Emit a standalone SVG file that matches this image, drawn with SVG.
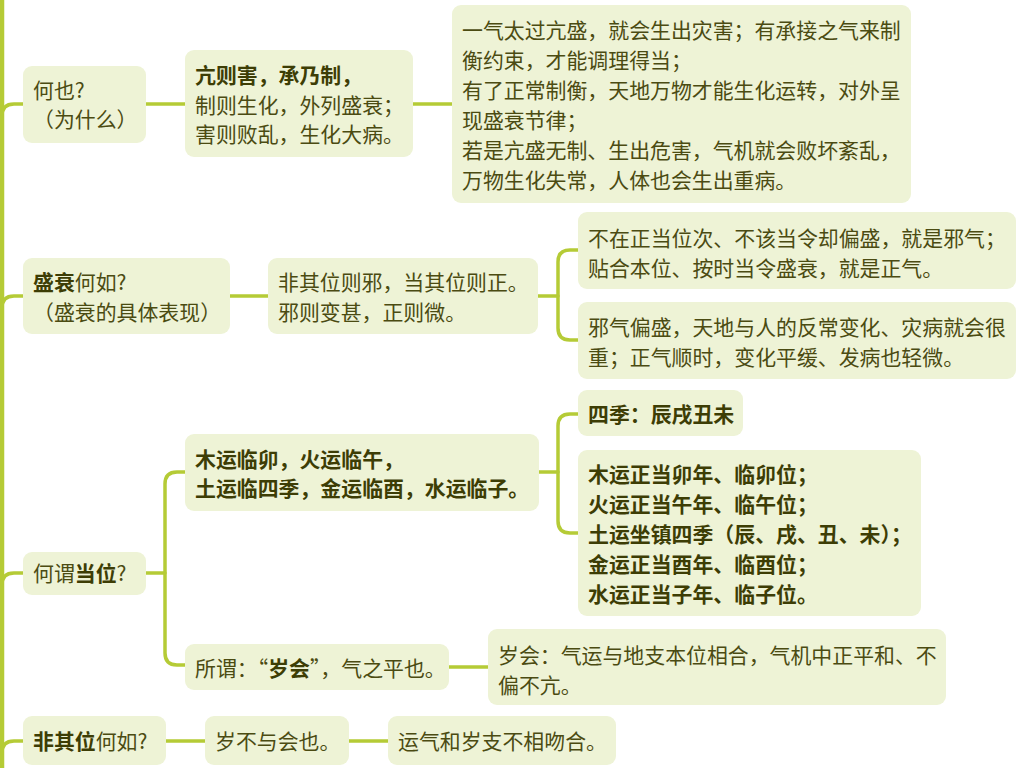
<svg xmlns="http://www.w3.org/2000/svg" width="1026" height="768" viewBox="0 0 1026 768">
<style>
.n{fill:#eef3d6;}
.t{font-family:"Noto Sans CJK SC","Noto Sans",sans-serif;font-size:20.9px;fill:#4b4b12;}
.b{font-weight:bold;fill:#3d3d05;}
.c{fill:none;stroke:#b5cb36;stroke-width:3.5;stroke-linecap:round;}
</style>
<rect width="1026" height="768" fill="#ffffff"/>
<g id="connectors">
<line x1="2" y1="0" x2="2" y2="768" stroke="#b5cb36" stroke-width="4.5"/>
<path class="c" d="M2 116 Q2 104 14 104 H23"/>
<path class="c" d="M2 308 Q2 296 14 296 H23"/>
<path class="c" d="M2 585 Q2 573 14 573 H23"/>
<path class="c" d="M2 753 Q2 741 14 741 H23"/>
<path class="c" d="M146 104 H185"/>
<path class="c" d="M413 104 H452"/>
<path class="c" d="M230 296 H268"/>
<path class="c" d="M538 296 H558"/>
<path class="c" d="M578 250 H570 Q558 250 558 262 V328 Q558 340 570 340 H578"/>
<path class="c" d="M146 573 H165"/>
<path class="c" d="M185 472 H177 Q165 472 165 484 V653 Q165 665 177 665 H185"/>
<path class="c" d="M539 472 H558"/>
<path class="c" d="M578 414 H570 Q558 414 558 426 V521 Q558 533 570 533 H578"/>
<path class="c" d="M449 667 H488"/>
<path class="c" d="M166 741 H205"/>
<path class="c" d="M349 741 H388"/>
</g>
<g id="n1"><rect class="n" x="23" y="66" width="123" height="77" rx="9"/>
<text class="t" x="33" y="98">何也?</text><text class="t" x="33" y="127">（为什么）</text></g>
<g id="n2"><rect class="n" x="185" y="50" width="228" height="107" rx="9"/>
<text class="t" x="195" y="83"><tspan class="b">亢则害，承乃制，</tspan></text>
<text class="t" x="195" y="113">制则生化，外列盛衰；</text>
<text class="t" x="195" y="142">害则败乱，生化大病。</text></g>
<g id="n3"><rect class="n" x="452" y="5" width="459" height="198" rx="9"/>
<text class="t" x="462" y="38">一气太过亢盛，就会生出灾害；有承接之气来制</text>
<text class="t" x="462" y="68">衡约束，才能调理得当；</text>
<text class="t" x="462" y="98">有了正常制衡，天地万物才能生化运转，对外呈</text>
<text class="t" x="462" y="128">现盛衰节律；</text>
<text class="t" x="462" y="158">若是亢盛无制、生出危害，气机就会败坏紊乱，</text>
<text class="t" x="462" y="188">万物生化失常，人体也会生出重病。</text></g>
<g id="n4"><rect class="n" x="23" y="258" width="207" height="76" rx="9"/>
<text class="t" x="33" y="290"><tspan class="b">盛衰</tspan>何如?</text>
<text class="t" x="33" y="320">（盛衰的具体表现）</text></g>
<g id="n5"><rect class="n" x="268" y="258" width="270" height="76" rx="9"/>
<text class="t" x="278" y="290">非其位则邪，当其位则正。</text>
<text class="t" x="278" y="320">邪则变甚，正则微。</text></g>
<g id="n6"><rect class="n" x="578" y="212" width="438" height="77" rx="9"/>
<text class="t" x="588" y="246">不在正当位次、不该当令却偏盛，就是邪气；</text>
<text class="t" x="588" y="276">贴合本位、按时当令盛衰，就是正气。</text></g>
<g id="n7"><rect class="n" x="578" y="302" width="438" height="77" rx="9"/>
<text class="t" x="588" y="335">邪气偏盛，天地与人的反常变化、灾病就会很</text>
<text class="t" x="588" y="365">重；正气顺时，变化平缓、发病也轻微。</text></g>
<g id="n8"><rect class="n" x="23" y="552" width="123" height="43" rx="9"/>
<text class="t" x="33" y="581">何谓<tspan class="b">当位</tspan>?</text></g>
<g id="n9"><rect class="n" x="185" y="434" width="354" height="77" rx="9"/>
<text class="t b" x="195" y="467">木运临卯，火运临午，</text>
<text class="t b" x="195" y="496">土运临四季，金运临酉，水运临子。</text></g>
<g id="n10"><rect class="n" x="578" y="390" width="165" height="46" rx="9"/>
<text class="t b" x="588" y="422">四季：辰戌丑未</text></g>
<g id="n11"><rect class="n" x="578" y="450" width="343" height="166" rx="9"/>
<text class="t b" x="588" y="482">木运正当卯年、临卯位；</text>
<text class="t b" x="588" y="512">火运正当午年、临午位；</text>
<text class="t b" x="588" y="542">土运坐镇四季（辰、戌、丑、未）；</text>
<text class="t b" x="588" y="572">金运正当酉年、临酉位；</text>
<text class="t b" x="588" y="602">水运正当子年、临子位。</text></g>
<g id="n12"><rect class="n" x="185" y="644" width="264" height="46" rx="9"/>
<text class="t" x="195" y="676">所谓：“<tspan class="b">岁会</tspan>”，气之平也。</text></g>
<g id="n13"><rect class="n" x="488" y="629" width="458" height="76" rx="9"/>
<text class="t" x="498" y="663">岁会：气运与地支本位相合，气机中正平和、不</text>
<text class="t" x="498" y="693">偏不亢。</text></g>
<g id="n14"><rect class="n" x="23" y="716" width="143" height="49" rx="9"/>
<text class="t" x="33" y="749"><tspan class="b">非其位</tspan>何如?</text></g>
<g id="n15"><rect class="n" x="205" y="716" width="144" height="49" rx="9"/>
<text class="t" x="215" y="749">岁不与会也。</text></g>
<g id="n16"><rect class="n" x="388" y="716" width="228" height="49" rx="9"/>
<text class="t" x="398" y="749">运气和岁支不相吻合。</text></g>
</svg>
